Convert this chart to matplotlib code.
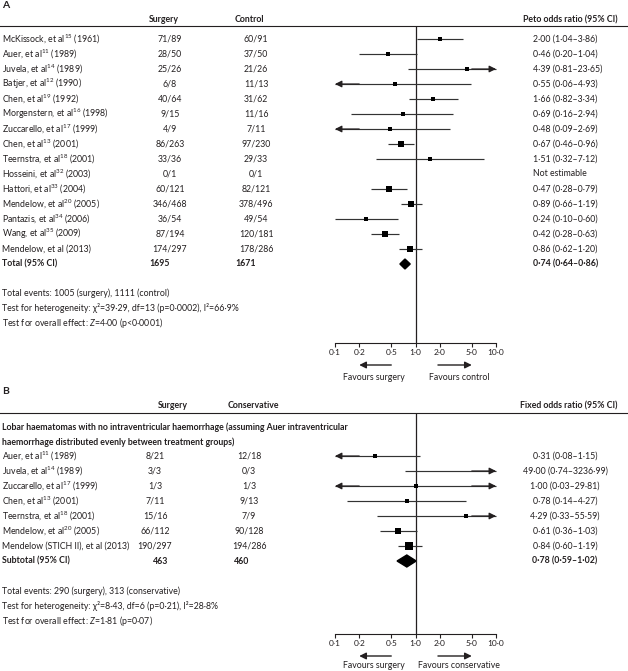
import matplotlib
matplotlib.use("Agg")
import matplotlib.pyplot as plt
from matplotlib.patches import Polygon

# ---------------- data ----------------
# Panel A
a_studies = [r"McKissock, et al$^{15}$ (1961)", r"Auer, et al$^{11}$ (1989)", r"Juvela, et al$^{14}$ (1989)",
             r"Batjer, et al$^{12}$ (1990)", r"Chen, et al$^{19}$ (1992)", r"Morgenstern, et al$^{16}$ (1998)",
             r"Zuccarello, et al$^{17}$ (1999)", r"Chen, et al$^{13}$ (2001)", r"Teernstra, et al$^{18}$ (2001)",
             r"Hosseini, et al$^{32}$ (2003)", r"Hattori, et al$^{33}$ (2004)", r"Mendelow, et al$^{20}$ (2005)",
             r"Pantazis, et al$^{34}$ (2006)", r"Wang, et al$^{35}$ (2009)", r"Mendelow, et al (2013)"]
a_surg_events = [71, 28, 25, 6, 40, 9, 4, 86, 33, 0, 60, 346, 36, 87, 174]
a_surg_total = [89, 50, 26, 8, 64, 15, 9, 263, 36, 1, 121, 468, 54, 194, 297]
a_ctrl_events = [60, 37, 21, 11, 31, 11, 7, 97, 29, 0, 82, 378, 49, 120, 178]
a_ctrl_total = [91, 50, 26, 13, 62, 16, 11, 230, 33, 1, 121, 496, 54, 181, 286]
a_or = [2.00, 0.46, 4.39, 0.55, 1.66, 0.69, 0.48, 0.67, 1.51, None, 0.47, 0.89, 0.24, 0.42, 0.86]
a_lo = [1.04, 0.20, 0.81, 0.06, 0.82, 0.16, 0.09, 0.46, 0.32, None, 0.28, 0.66, 0.10, 0.28, 0.62]
a_hi = [3.86, 1.04, 23.65, 4.93, 3.34, 2.94, 2.69, 0.96, 7.12, None, 0.79, 1.19, 0.60, 0.63, 1.20]
a_total_surg, a_total_ctrl = 1695, 1671
a_pooled = (0.74, 0.64, 0.86)
a_notes = ["Total events: 1005 (surgery), 1111 (control)",
           "Test for heterogeneity: χ²=39·29, df=13 (p=0·0002), I²=66·9%",
           r"Test for overall effect: $\mathit{Z}$=4·00 (p<0·0001)"]

# Panel B
b_studies = [r"Auer, et al$^{11}$ (1989)", r"Juvela, et al$^{14}$ (1989)", r"Zuccarello, et al$^{17}$ (1999)",
             r"Chen, et al$^{13}$ (2001)", r"Teernstra, et al$^{18}$ (2001)", r"Mendelow, et al$^{20}$ (2005)",
             r"Mendelow (STICH II), et al (2013)"]
b_surg_events = [8, 3, 1, 7, 15, 66, 190]
b_surg_total = [21, 3, 3, 11, 16, 112, 297]
b_cons_events = [12, 0, 1, 9, 7, 90, 194]
b_cons_total = [18, 3, 3, 13, 9, 128, 286]
b_or = [0.31, 49.00, 1.00, 0.78, 4.29, 0.61, 0.84]
b_lo = [0.08, 0.74, 0.03, 0.14, 0.33, 0.36, 0.60]
b_hi = [1.15, 3236.99, 29.81, 4.27, 55.59, 1.03, 1.19]
b_total_surg, b_total_cons = 463, 460
b_pooled = (0.78, 0.59, 1.02)
b_notes = ["Total events: 290 (surgery), 313 (conservative)",
           "Test for heterogeneity: χ²=8·43, df=6 (p=0·21), I²=28·8%",
           r"Test for overall effect: $\mathit{Z}$=1·81 (p=0·07)"]

ticks = [0.1, 0.2, 0.5, 1.0, 2.0, 5.0, 10.0]
tick_labels = ["0·1", "0·2", "0·5", "1·0", "2·0", "5·0", "10·0"]

# ---------------- style ----------------
W, H, DPI = 628, 671, 100
INK = "#231f20"
FS = 6.3
plt.rcParams["font.family"] = ["Lato", "DejaVu Sans"]
plt.rcParams["mathtext.fontset"] = "custom"
plt.rcParams["mathtext.rm"] = "Lato"
plt.rcParams["mathtext.it"] = "Lato:italic"
plt.rcParams["mathtext.bf"] = "Lato:bold"
plt.rcParams["text.color"] = INK

a_msize = [5.0, 4.8, 4.8, 4.8, 5.0, 4.8, 4.8, 6.0, 4.8, 0, 5.2, 6.0, 4.8, 5.2, 5.6]
b_msize = [4.8, 4.4, 4.4, 4.4, 4.4, 6.8, 8.4]


def fmt(v):
    return f"{v:.2f}".replace(".", "·")


fig = plt.figure(figsize=(W / DPI, H / DPI), dpi=DPI)
ov = fig.add_axes([0, 0, 1, 1])
ov.set_xlim(0, W)
ov.set_ylim(H, 0)
ov.axis("off")


def txt(x, y, s, ha="left", bold=False, size=FS, **kw):
    ov.text(x, y, s, ha=ha, va="center", fontsize=size,
            fontweight="bold" if bold else "normal", color=INK, **kw)


def forest(top_px, bot_px, row0_px, step, x_lo_px=335, x_hi_px=496):
    ax = fig.add_axes([x_lo_px / W, 1 - bot_px / H, (x_hi_px - x_lo_px) / W, (bot_px - top_px) / H])
    ax.set_xscale("log")
    ax.set_xlim(0.1, 10)
    ax.set_ylim((bot_px - row0_px) / step, (top_px - row0_px) / step)
    ax.patch.set_alpha(0)
    for s in ["top", "left", "right"]:
        ax.spines[s].set_visible(False)
    ax.spines["bottom"].set_color(INK)
    ax.spines["bottom"].set_linewidth(0.8)
    ax.set_xticks(ticks)
    ax.set_xticklabels(tick_labels, fontsize=FS - 0.3)
    ax.minorticks_off()
    ax.tick_params(axis="x", direction="out", length=3, width=0.8, pad=1.5, colors=INK)
    ax.set_yticks([])
    ax.axvline(1.0, color=INK, lw=0.9)
    return ax


def draw_ci(ax, y, orv, lo, hi, ms):
    lo_c = max(lo, 0.1)
    hi_c = min(hi, 10)
    ax.plot([lo_c, hi_c], [y, y], color="#333333", lw=0.85, solid_capstyle="butt", clip_on=False)
    ap = dict(arrowstyle="-|>", color=INK, lw=0.85, mutation_scale=10, shrinkA=0, shrinkB=0)
    if lo < 0.1:
        ax.annotate("", xy=(0.1, y), xytext=(0.2, y), arrowprops=ap, annotation_clip=False)
    if hi > 10:
        ax.annotate("", xy=(10, y), xytext=(5.0, y), arrowprops=ap, annotation_clip=False)
    if 0.1 <= orv <= 10:
        ax.plot([orv], [y], "s", ms=ms / 1.389, color="black", mew=0, clip_on=False)


def diamond(ax, y, orv, lo, hi, half):
    ax.add_patch(Polygon([(lo, y), (orv, y - half), (hi, y), (orv, y + half)],
                         closed=True, color="black", clip_on=False))


# ---------------- Panel A ----------------
A_TOP, A_BOT, A_ROW0, STEP = 26, 343, 39, 15
txt(2, 5, "A", bold=True, size=7.5)
txt(149, 20, "Surgery", bold=True)
txt(235, 20, "Control", bold=True)
txt(618, 20, "Peto odds ratio (95% CI)", ha="right", bold=True)
ov.plot([0, W], [A_TOP, A_TOP], color=INK, lw=0.8)

axA = forest(A_TOP, A_BOT, A_ROW0, STEP)
for i, name in enumerate(a_studies):
    y = A_ROW0 + STEP * i
    txt(2, y, name)
    txt(170, y, f"{a_surg_events[i]}/{a_surg_total[i]}", ha="center")
    txt(256, y, f"{a_ctrl_events[i]}/{a_ctrl_total[i]}", ha="center")
    if a_or[i] is None:
        txt(533, y, "Not estimable")
    else:
        txt(533, y, f"{fmt(a_or[i])} ({fmt(a_lo[i])}–{fmt(a_hi[i])})")
        draw_ci(axA, i, a_or[i], a_lo[i], a_hi[i], a_msize[i])
nA = len(a_studies)
yT = A_ROW0 + STEP * nA
txt(2, yT, "Total (95% CI)", bold=True)
txt(149, yT, str(a_total_surg), bold=True)
txt(235, yT, str(a_total_ctrl), bold=True)
txt(533, yT, f"{fmt(a_pooled[0])} ({fmt(a_pooled[1])}–{fmt(a_pooled[2])})", bold=True)
diamond(axA, nA, a_pooled[0], a_pooled[1], a_pooled[2], 5 / STEP)
for k, s in enumerate(a_notes):
    txt(2, 293 + 15 * k, s)

ap2 = dict(arrowstyle="-|>", color=INK, lw=1.0, mutation_scale=10, shrinkA=0, shrinkB=0)
axA.annotate("", xy=(0.2, (365 - A_ROW0) / STEP), xytext=(0.5, (365 - A_ROW0) / STEP),
             arrowprops=ap2, annotation_clip=False)
axA.annotate("", xy=(5.0, (365 - A_ROW0) / STEP), xytext=(1.9, (365 - A_ROW0) / STEP),
             arrowprops=ap2, annotation_clip=False)
txt(374, 377, "Favours surgery", ha="center")
txt(459, 377, "Favours control", ha="center")

# ---------------- Panel B ----------------
B_TOP, B_BOT, B_ROW0 = 413, 634, 456
txt(2, 392, "B", bold=True, size=7.5)
txt(158, 406, "Surgery", bold=True)
txt(228, 406, "Conservative", bold=True)
txt(618, 406, "Fixed odds ratio (95% CI)", ha="right", bold=True)
ov.plot([0, W], [B_TOP, B_TOP], color=INK, lw=0.8)
txt(2, 427, "Lobar haematomas with no intraventricular haemorrhage (assuming Auer intraventricular", bold=True)
txt(2, 442, "haemorrhage distributed evenly between treatment groups)", bold=True)

axB = forest(B_TOP, B_BOT, B_ROW0, STEP)
for i, name in enumerate(b_studies):
    y = B_ROW0 + STEP * i
    txt(2, y, name)
    txt(155, y, f"{b_surg_events[i]}/{b_surg_total[i]}", ha="center")
    txt(249, y, f"{b_cons_events[i]}/{b_cons_total[i]}", ha="center")
    txt(565, y, f"{fmt(b_or[i])} ({fmt(b_lo[i])}–{fmt(b_hi[i])})", ha="center")
    draw_ci(axB, i, b_or[i], b_lo[i], b_hi[i], b_msize[i])
nB = len(b_studies)
yS = B_ROW0 + STEP * nB
txt(2, yS, "Subtotal (95% CI)", bold=True)
txt(153, yS, str(b_total_surg), bold=True)
txt(234, yS, str(b_total_cons), bold=True)
txt(565, yS, f"{fmt(b_pooled[0])} ({fmt(b_pooled[1])}–{fmt(b_pooled[2])})", ha="center", bold=True)
diamond(axB, nB, b_pooled[0], b_pooled[1], b_pooled[2], 6 / STEP)
for k, s in enumerate(b_notes):
    txt(2, 591 + 15 * k, s)

axB.annotate("", xy=(0.2, (656 - B_ROW0) / STEP), xytext=(0.5, (656 - B_ROW0) / STEP),
             arrowprops=ap2, annotation_clip=False)
axB.annotate("", xy=(5.0, (656 - B_ROW0) / STEP), xytext=(1.9, (656 - B_ROW0) / STEP),
             arrowprops=ap2, annotation_clip=False)
txt(374, 666, "Favours surgery", ha="center")
txt(459, 666, "Favours conservative", ha="center")

fig.savefig("out.png", dpi=DPI, facecolor="white")
